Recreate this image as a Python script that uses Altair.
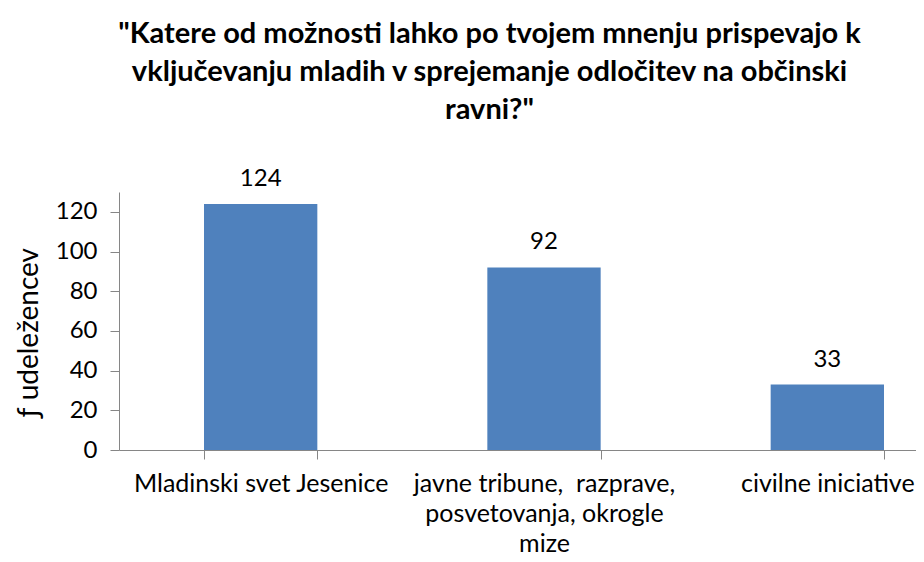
import altair as alt
import pandas as pd

categories = ["Mladinski svet Jesenice", "javne tribune,\u00a0 razprave,\nposvetovanja, okrogle\nmize", "civilne iniciative"]
values = [124, 92, 33]
y_ticks = [0, 20, 40, 60, 80, 100, 120]

df = pd.DataFrame({"cat": categories, "val": values})

FONT = "Lato"
AX = "#868686"

x = alt.X("cat:N", sort=categories, title=None,
          scale=alt.Scale(range=[0, 850], paddingInner=0.6, paddingOuter=0.3),
          axis=alt.Axis(labelAngle=0, labelExpr="split(datum.label, '\\n')",
                        labelFontSize=25, labelFont=FONT, labelColor="#000000",
                        labelLineHeight=30, labelPadding=12, labelLimit=400,
                        tickBand="extent", tickSize=9, tickColor=AX, domainColor=AX,
                        labelBaseline="top"))
y = alt.Y("val:Q", title="ƒ udeležencev",
          scale=alt.Scale(domain=[0, 130], nice=False),
          axis=alt.Axis(values=y_ticks, grid=False, labelFontSize=24, labelFont=FONT,
                        labelColor="#000000", tickSize=9, tickColor=AX, domainColor=AX,
                        titleFontSize=28, titleFont=FONT, titleFontWeight="normal",
                        titleColor="#000000", titlePadding=12, labelPadding=13,
                        titleY=140))

bars = alt.Chart(df).mark_bar(color="#4f81bd").encode(x=x, y=y)
text = alt.Chart(df).mark_text(baseline="bottom", dy=-13, fontSize=24, font=FONT,
                               color="#000000").encode(
    x=alt.X("cat:N", sort=categories), y="val:Q", text="val:Q")

chart = (bars + text).properties(
    width=797, height=258,
    autosize=alt.AutoSizeParams(type="none"),
    padding={"left": 111, "top": 184, "right": 0, "bottom": 112},
    title=alt.TitleParams(
        text=["\"Katere od možnosti lahko po tvojem mnenju prispevajo k",
              "vključevanju mladih v sprejemanje odločitev na občinski",
              "ravni?\""],
        font=FONT, fontSize=29, fontWeight="bold", color="#000000",
        lineHeight=38, anchor="middle", dx=-28, offset=42),
).configure_view(stroke=None)

chart.save("out.html", embed_options={"renderer": "svg", "actions": False})
